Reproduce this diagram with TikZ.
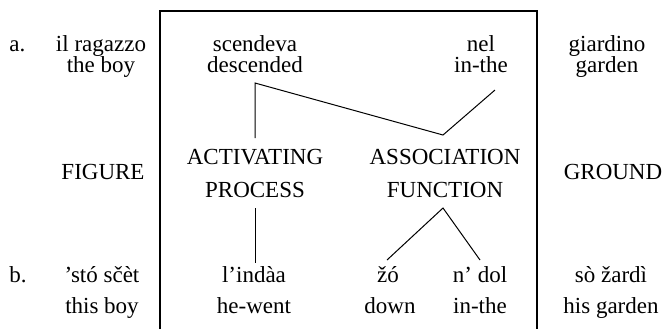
\documentclass[tikz,border=0pt]{standalone}
\usepackage{fontspec}
\setmainfont{Liberation Serif}

\begin{document}
\begin{tikzpicture}[x=0.5pt, y=-0.5pt,
	word/.style={anchor=base, inner sep=0pt, font=\fontsize{11.5}{13}\selectfont},
	tag/.style={anchor=base west, inner sep=0pt, font=\fontsize{11.5}{13}\selectfont},
	link/.style={line width=0.5pt}]
	\useasboundingbox (0,0) rectangle (663,329);
	\def \rowa{ 51 };
	\def \rowaa{ 72 };
	\def \rowb{ 282 };
	\def \rowbb{ 313 };

	% sentence a
	\node[tag] (a) at (9,\rowa) {a.};
	\node[word] (boyit) at (101,\rowa) {il ragazzo};
	\node[word] (boyen) at (101,\rowaa) {the boy};
	\node[word] (scend) at (255,\rowa) {scendeva};
	\node[word] (desc) at (255,\rowaa) {descended};
	\node[word] (nel) at (481,\rowa) {nel};
	\node[word] (inthea) at (481,\rowaa) {in-the};
	\node[word] (giard) at (607,\rowa) {giardino};
	\node[word] (gardena) at (607,\rowaa) {garden};

	% labels
	\node[word] (fig) at (103,179) {FIGURE};
	\node[word] (act) at (255,164) {ACTIVATING};
	\node[word] (proc) at (255,197) {PROCESS};
	\node[word] (assoc) at (445,164) {ASSOCIATION};
	\node[word] (func) at (445,197) {FUNCTION};
	\node[word] (gnd) at (613,179) {GROUND};

	% sentence b
	\node[tag] (b) at (9,\rowb) {b.};
	\node[word] (boyld) at (102,\rowb) {’stó sčèt};
	\node[word] (boyenb) at (102,\rowbb) {this boy};
	\node[word] (went) at (254,\rowb) {l’indàa};
	\node[word] (hewent) at (254,\rowbb) {he-went};
	\node[word] (zo) at (388,\rowb) {žó};
	\node[word] (down) at (390,\rowbb) {down};
	\node[word] (dol) at (480,\rowb) {n’ dol};
	\node[word] (intheb) at (480,\rowbb) {in-the};
	\node[word] (zardi) at (611,\rowb) {sò žardì};
	\node[word] (gardenb) at (611,\rowbb) {his garden};

	% connectors
	\coordinate (actin) at (255,138);
	\coordinate (bend) at (255,83);
	\coordinate (assin) at (443,135);
	\coordinate (nelin) at (495,90);
	\coordinate (procout) at (255,208);
	\coordinate (wentin) at (255,263);
	\coordinate (funcout) at (443,208);
	\coordinate (zoin) at (387,260);
	\coordinate (dolin) at (480,260);

	\draw[line width=0.6pt] (160,329) -- (160,11) -- (537,11) -- (537,329);
	\draw[link] (actin) -- (bend) -- (assin) -- (nelin);
	\draw[link] (procout) -- (wentin);
	\draw[link] (zoin) -- (funcout) -- (dolin);
\end{tikzpicture}
\end{document}
